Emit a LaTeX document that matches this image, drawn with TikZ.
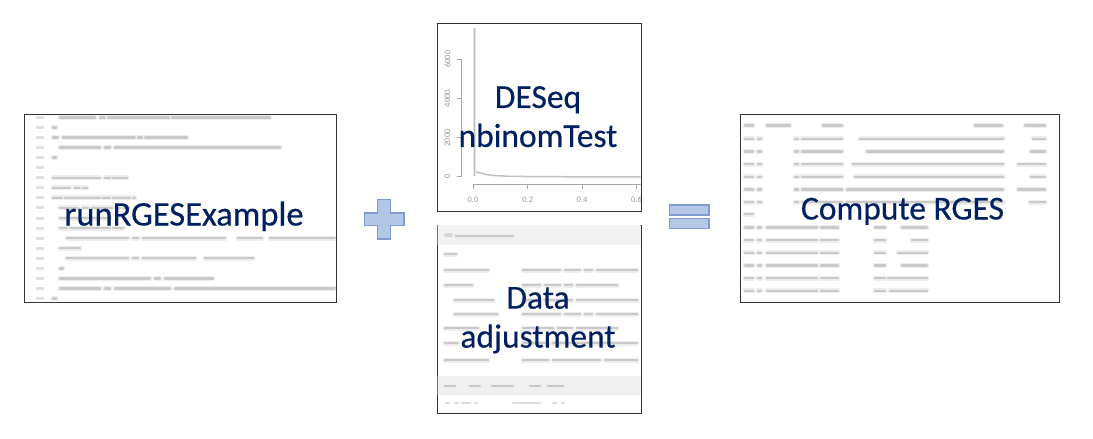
\documentclass[tikz,border=0pt]{standalone}
\usepackage{fontspec}
\setmainfont{Carlito}
\newfontfamily\lblfont[FakeBold=0.4]{Carlito}
\definecolor{navy}{HTML}{002060}
\definecolor{opfill}{HTML}{B4C7E7}
\definecolor{opline}{HTML}{7F9BCF}
\begin{document}
\begin{tikzpicture}[x=1pt,y=-1pt,
  panel/.style={draw=black!80,line width=1pt,fill=white},
  halo/.style={draw=black!7,line width=5pt,line cap=round},
  core/.style={draw=black!21,line width=2.4pt,line cap=round},
  linenum/.style={draw=black!12,line width=3pt,line cap=round},
  label/.style={text=navy,font=\lblfont\fontsize{33.5}{39}\selectfont,align=center,inner sep=0pt},
  axis/.style={draw=black!35,line width=0.9pt},
  ticklbl/.style={text=black!40,font=\fontsize{8.5}{9}\selectfont,inner sep=0pt},
  opshape/.style={fill=opfill,draw=opline,line width=1.2pt}]
\useasboundingbox (0,0) rectangle (1093,439);
\fill[white] (0,0) rectangle (1093,439);
% one blurred word of screen text
\def\bw(#1,#2,#3){\draw[halo] (#1,#3) -- (#2,#3); \draw[core] (#1,#3) -- (#2,#3);}

% ---------- code listing panel ----------
\node[panel,minimum width=312pt,minimum height=188pt,anchor=north west,inner sep=0pt] (code) at (24,114) {};
\begin{scope}
\clip (24.5,114.5) rectangle (335.5,301.5);
\foreach \k in {0,...,18} { \draw[linenum] (37,117.3+10.07*\k) -- (43,117.3+10.07*\k); }
\foreach \k/\segs in {
  0/{60/95,100/105,108/170,172/270},
  1/{53/56},
  2/{53/58,63/135,138/142,145/187},
  3/{60/100,105/110,115/280},
  4/{53/56},
  6/{53/100,105/110,113/127},
  7/{53/70,75/80,83/87},
  8/{53/62,65/100,103/110,113/130,133/135},
  9/{60/78,83/88,92/112,116/120,124/128},
  10/{60/110},
  11/{60/67,70/110,113/123},
  12/{67/128,133/138,143/225,238/262,270/335},
  13/{60/80},
  14/{67/128,133/138,143/195,205/253},
  15/{60/63},
  16/{60/150,155/160,165/213},
  17/{60/100,105/110,115/170,175/340},
  18/{53/56}} {
  \foreach \a/\b in \segs { \bw(\a,\b,117.3+10.07*\k) }
}
\end{scope}
\node[label,anchor=base,font=\lblfont\fontsize{34.5}{39}\selectfont] (runlbl) at (184,225.5) {runRGESExample};

% ---------- histogram panel ----------
\node[panel,minimum width=204pt,minimum height=188pt,anchor=north west,inner sep=0pt] (hist) at (437,23) {};
\begin{scope}
\clip (437.5,23.5) rectangle (640.5,210.5);
% y axis
\draw[axis] (461.7,59.3) -- (461.7,176.7);
\foreach \yy/\t in {59.3/6000,98.5/4000,137.8/2000,176.7/0} {
  \draw[axis] (456.5,\yy) -- (461.7,\yy);
  \node[ticklbl,rotate=90] at (447.5,\yy) {\t};
}
% x axis
\draw[axis] (473,184.3) -- (660,184.3);
\foreach \xx/\t in {473/0.0,527.7/0.2,582/0.4,636.5/0.6} {
  \draw[axis] (\xx,184.3) -- (\xx,189);
  \node[ticklbl] at (\xx,200) {\t};
}
% distribution
\draw[black!10,line width=3.6pt] (474.6,28) -- (474.6,176);
\draw[black!26,line width=1.6pt] (474.6,28) -- (474.6,176);
\draw[black!24,line width=1.5pt] (476,172) -- (480,172.8) -- (486,174.5) -- (495,175.6) -- (510,176.3) -- (540,176.7) -- (641,176.9);
\end{scope}
\node[label] (deslbl) at (538,116.7) {DESeq\\nbinomTest};

% ---------- environment panel ----------
\node[panel,minimum width=204pt,minimum height=188pt,anchor=north west,inner sep=0pt] (env) at (437,225) {};
\begin{scope}
\clip (437.5,225.5) rectangle (640.5,412.5);
\fill[black!5] (437,225) rectangle (641,245);
\draw[black!16,line width=3.5pt,line cap=round] (446,235) -- (451,235);
\bw(456,513,236)
\bw(445,456,254)
\foreach \yy/\segs in {
  270/{445/488,523/560,565/580,585/592,597/637},
  285/{445/472,523/540,545/560,565/572,577/617},
  300/{455/493,523/540,545/560,565/572,577/637},
  314/{455/497,523/560,565/580,585/592,597/637},
  328/{445/478,523/553,558/572,577/617},
  343/{445/458,523/548,553/637},
  360/{445/488,523/548,553/600,605/637}} {
  \foreach \a/\b in \segs { \bw(\a,\b,\yy) }
}
\fill[black!6] (437,376) rectangle (641,395);
\foreach \a/\b in {445/455,470/480,492/513,530/540,548/563} { \bw(\a,\b,386) }
\foreach \a/\b in {446/449,455/458,462/470,475/477,513/540,553/556,562/564} { \draw[draw=black!14,line width=2.5pt,line cap=round] (\a,403) -- (\b,403); }
\end{scope}
\node[label] (envlbl) at (538,320.2) {Data\\adjustment};

% ---------- score table panel ----------
\node[panel,minimum width=319pt,minimum height=188pt,anchor=north west,inner sep=0pt] (table) at (740,114) {};
\begin{scope}
\clip (740.5,114.5) rectangle (1058.5,301.5);
\foreach \a/\b in {745/753,767/790,823/842,975/1002,1025/1045} { \bw(\a,\b,125.5) }
\foreach \k/\s/\c in {1/860/1033,2/867/1031,3/853/1018,4/855/1031,5/847/1018,6/847/1030} {
  \pgfmathsetmacro\yy{126.3+12.65*\k}
  \foreach \a/\b in {745/753,758/761,795/798,802/842,\s/1003,\c/1045} { \bw(\a,\b,\yy) }
}
\bw(745,753,214)
\foreach \k/\t in {8/902,9/912,10/898,11/902,12/888,13/890} {
  \pgfmathsetmacro\yy{126.3+12.65*\k}
  \foreach \a/\b in {745/753,758/761,767/817,821/838,875/885,\t/927} { \bw(\a,\b,\yy) }
}
\end{scope}
\node[label,anchor=base] (rgeslbl) at (902.5,219.5) {Compute RGES};

% ---------- operators ----------
\draw[opshape] (377.7,199.3) -- (390.7,199.3) -- (390.7,213) -- (404,213) -- (404,225.3) -- (390.7,225.3) -- (390.7,239) -- (377.7,239) -- (377.7,225.3) -- (364.3,225.3) -- (364.3,213) -- (377.7,213) -- cycle;
\draw[opshape] (669.3,205) rectangle (709,215);
\draw[opshape] (669.3,218.3) rectangle (709,228.3);
\end{tikzpicture}
\end{document}
